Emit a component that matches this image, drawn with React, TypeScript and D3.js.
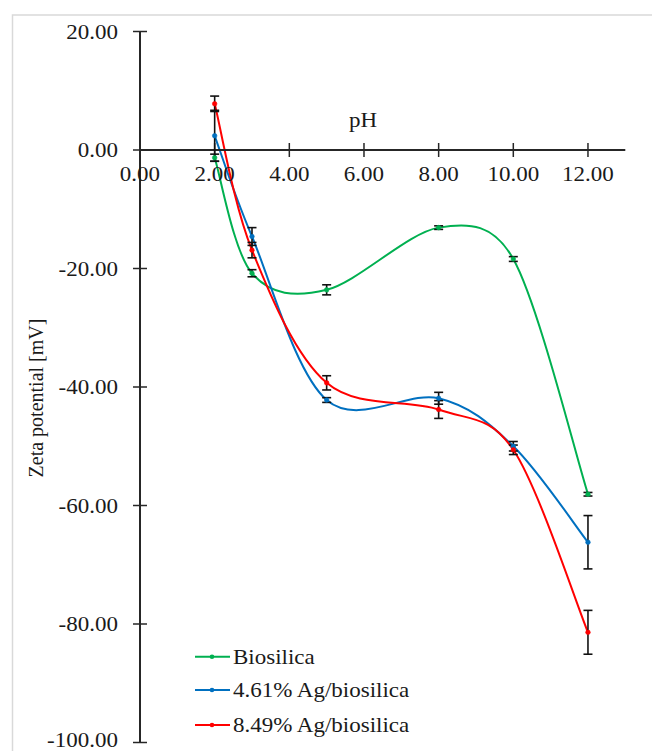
import React from "react";
import * as d3 from "d3";

const pH = [2, 3, 5, 8, 10, 12];
const biosilica = [-1.3, -20.8, -23.6, -13.1, -18.4, -58.1];
const biosilicaErr = [0.6, 0.6, 0.85, 0.3, 0.4, 0.3];
const ag461 = [2.4, -14.6, -42.2, -41.9, -50.0, -66.2];
const ag461Err = [4.3, 1.5, 0.4, 1.0, 0.8, 4.5];
const ag849 = [7.8, -16.9, -39.3, -43.8, -50.6, -81.4];
const ag849Err = [1.3, 1.3, 1.2, 1.5, 0.8, 3.7];
const seriesNames = ["Biosilica", "4.61% Ag/biosilica", "8.49% Ag/biosilica"];
const seriesColors = ["#00b050", "#0070c0", "#ff0000"];
const xTicks = [0, 2, 4, 6, 8, 10, 12];
const yTicks = [20, 0, -20, -40, -60, -80, -100];

const W = 652;
const H = 751;
const FONT = "'Liberation Serif', 'Times New Roman', serif";
const SX = 1.15;

// Excel-like smoothed line: Catmull-Rom (1/6) control points, capped at half the segment length
function smoothPath(pts: [number, number][]): string {
  const p = d3.path();
  if (!pts.length) return "";
  p.moveTo(pts[0][0], pts[0][1]);
  const n = pts.length;
  const cap = (dx: number, dy: number, seg: number): [number, number] => {
    const L = Math.hypot(dx, dy);
    const max = seg * 0.5;
    if (L > max && L > 0) {
      const k = max / L;
      return [dx * k, dy * k];
    }
    return [dx, dy];
  };
  for (let i = 0; i < n - 1; i++) {
    const P0 = pts[Math.max(0, i - 1)];
    const P1 = pts[i];
    const P2 = pts[i + 1];
    const P3 = pts[Math.min(n - 1, i + 2)];
    const seg = Math.hypot(P2[0] - P1[0], P2[1] - P1[1]);
    const [ax, ay] = cap((P2[0] - P0[0]) / 6, (P2[1] - P0[1]) / 6, seg);
    const [bx, by] = cap((P3[0] - P1[0]) / 6, (P3[1] - P1[1]) / 6, seg);
    p.bezierCurveTo(P1[0] + ax, P1[1] + ay, P2[0] - bx, P2[1] - by, P2[0], P2[1]);
  }
  return p.toString();
}

export default function App() {
  const x = d3.scaleLinear().domain([0, 13]).range([140, 625.3]);
  const y = d3.scaleLinear().domain([-100, 20]).range([742.5, 31.5]);
  const series = [
    { name: seriesNames[0], color: seriesColors[0], vals: biosilica, errs: biosilicaErr },
    { name: seriesNames[1], color: seriesColors[1], vals: ag461, errs: ag461Err },
    { name: seriesNames[2], color: seriesColors[2], vals: ag849, errs: ag849Err },
  ];
  const x0 = x(0);
  const y0 = y(0);
  const txt = "#1a1a1a";
  const axis = "#262626";
  const legendY = [656.7, 690, 725];

  return (
    <svg
      width={W}
      height={H}
      style={{ position: "absolute", left: 0, top: 0, background: "#fff" }}
      fontFamily={FONT}
    >
      <rect x={0} y={0} width={W} height={H} fill="#fff" />
      <rect x={12.5} y={15} width={800} height={900} fill="none" stroke="#d9d9d9" strokeWidth={1.5} />

      {/* series lines */}
      {series.map((s, i) => (
        <path
          key={"l" + i}
          d={smoothPath(pH.map((v, j) => [x(v), y(s.vals[j])] as [number, number]))}
          fill="none"
          stroke={s.color}
          strokeWidth={2}
        />
      ))}

      {/* axes */}
      <line x1={x0} x2={x0} y1={y(20)} y2={y(-100)} stroke={axis} strokeWidth={2} />
      <line x1={x0} x2={x(13)} y1={y0} y2={y0} stroke={axis} strokeWidth={2} />
      {yTicks.map((t) => (
        <g key={"yt" + t}>
          <line x1={x0 - 7} x2={x0 + 7} y1={y(t)} y2={y(t)} stroke={axis} strokeWidth={1.5} />
          <text
            transform={`translate(118,${t === -100 ? 747 : y(t) + 7}) scale(${SX},1)`}
            textAnchor="end"
            fontSize={20}
            fontFamily={FONT}
            fill={txt}
          >
            {t.toFixed(2)}
          </text>
        </g>
      ))}
      {xTicks.map((t) => (
        <g key={"xt" + t}>
          {t !== 0 && (
            <line x1={x(t)} x2={x(t)} y1={y0 - 7} y2={y0 + 7} stroke={axis} strokeWidth={1.5} />
          )}
          <text
            transform={`translate(${x(t)},${180.5}) scale(${SX},1)`}
            textAnchor="middle"
            fontSize={20}
            fontFamily={FONT}
            fill={txt}
          >
            {t.toFixed(2)}
          </text>
        </g>
      ))}

      <text
        transform={`translate(363,126.5) scale(${SX},1)`}
        textAnchor="middle"
        fontSize={20}
        fontFamily={FONT}
        fill={txt}
      >
        pH
      </text>
      <text
        transform={`translate(43,398) rotate(-90)`}
        textAnchor="middle"
        fontSize={20}
        fontFamily={FONT}
        fill={txt}
      >
        Zeta potential [mV]
      </text>

      {/* error bars */}
      {series.map((s, i) =>
        pH.map((p, j) => {
          const cx = x(p);
          const yt = y(s.vals[j] + s.errs[j]);
          const yb = y(s.vals[j] - s.errs[j]);
          return (
            <g key={`e${i}-${j}`} stroke="#111" strokeWidth={1.6}>
              <line x1={cx} x2={cx} y1={yt} y2={yb} />
              <line x1={cx - 4.5} x2={cx + 4.5} y1={yt} y2={yt} />
              <line x1={cx - 4.5} x2={cx + 4.5} y1={yb} y2={yb} />
            </g>
          );
        })
      )}

      {/* markers */}
      {series.map((s, i) =>
        pH.map((p, j) => (
          <circle key={`m${i}-${j}`} cx={x(p)} cy={y(s.vals[j])} r={2.3} fill={s.color} stroke={s.color} strokeWidth={0.6} />
        ))
      )}

      {/* legend */}
      {series.map((s, i) => (
        <g key={"lg" + i}>
          <line x1={195} x2={230} y1={legendY[i]} y2={legendY[i]} stroke={s.color} strokeWidth={2} />
          <circle cx={212} cy={legendY[i]} r={2.3} fill={s.color} />
          <text
            transform={`translate(233,${legendY[i] + 7}) scale(${SX},1)`}
            fontSize={20}
            fontFamily={FONT}
            fill={txt}
          >
            {s.name}
          </text>
        </g>
      ))}
    </svg>
  );
}
